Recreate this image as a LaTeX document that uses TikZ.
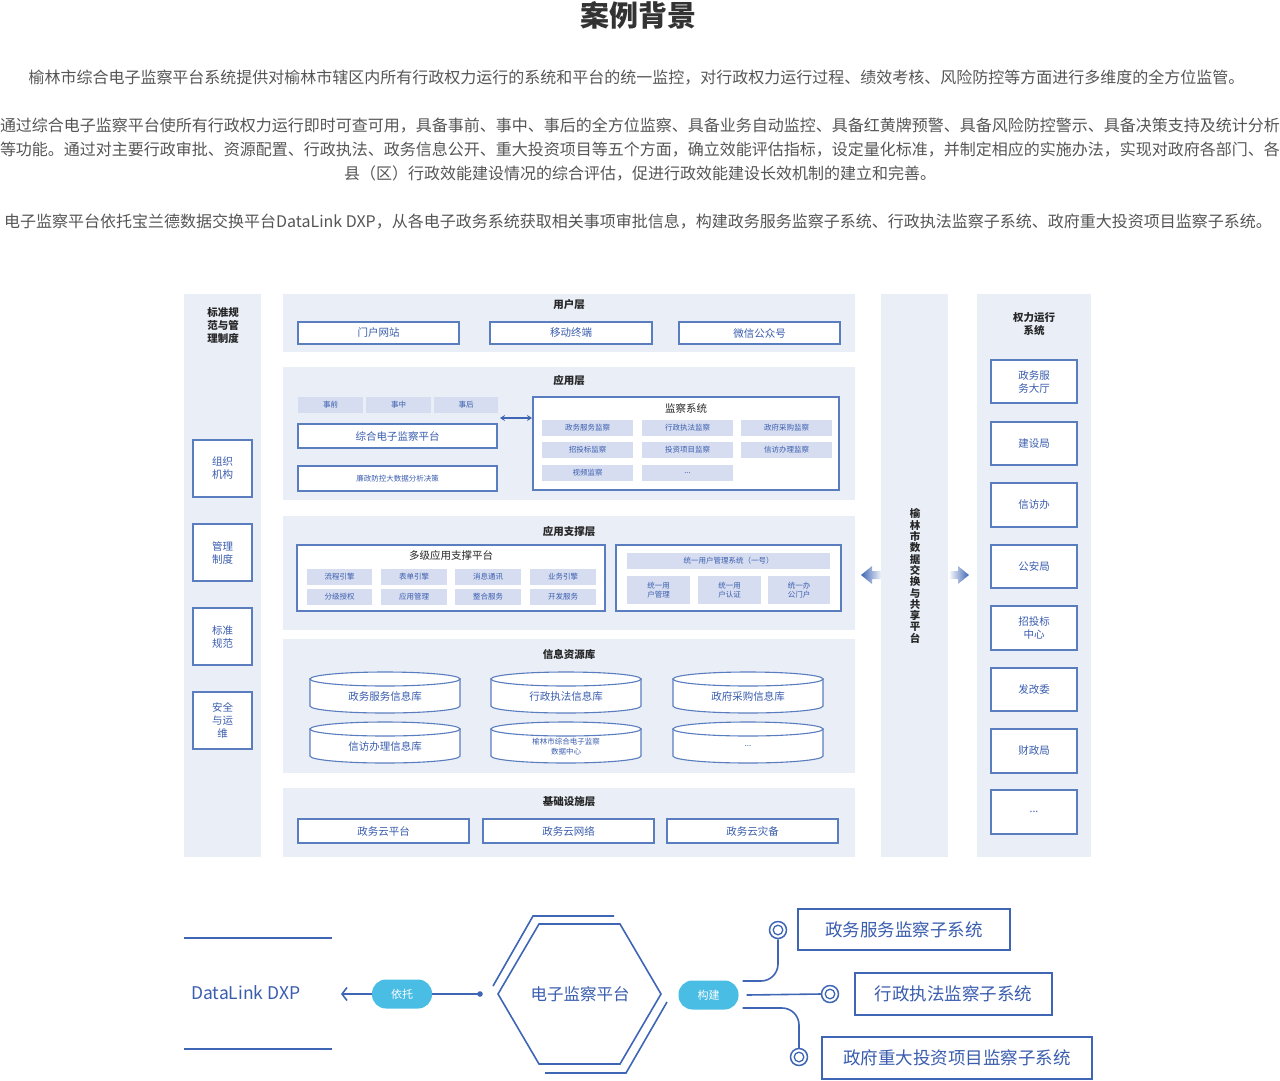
\documentclass[tikz,border=0pt]{standalone}
\usepackage{fontspec}
\setmainfont{Noto Sans CJK SC}
\usetikzlibrary{arrows.meta}
\definecolor{panelc}{HTML}{E9EEF7}
\definecolor{chipc}{HTML}{D6DDF0}
\definecolor{boxc}{HTML}{5A7DC0}
\definecolor{txtc}{HTML}{3A5DAE}
\definecolor{linec}{HTML}{3F66B5}
\definecolor{pillc}{HTML}{4ABDE5}
\definecolor{bodyc}{HTML}{555555}
\definecolor{headc}{HTML}{333333}
\newcommand\fs[2]{\fontsize{#1pt}{#2pt}\selectfont}
\newcommand\bx[7]{%
  \pgfmathsetmacro\bxw{#5-#3}\pgfmathsetmacro\bxh{#6-#4}%
  \pgfmathsetmacro\bxx{(#3+#5)/2}\pgfmathsetmacro\bxy{-(#4+#6)/2}%
  \node[#1, minimum width=\bxw pt, minimum height=\bxh pt, inner sep=0pt, outer sep=0pt] (#2) at (\bxx,\bxy) {#7};}
\newcommand\cyl[6]{%
  \draw[boxc, line width=1.1pt, fill=white] (#2-75,-#3) -- (#2-75,-#4) arc[start angle=180,end angle=360,x radius=75pt,y radius=7pt] -- (#2+75,-#3) -- cycle;
  \draw[boxc, line width=1.1pt, fill=white] (#2,-#3) ellipse[x radius=75pt, y radius=7pt];
  \node[text=txtc, align=center, font=#5] (#1) at (#2,{-(#3+#4)/2-4}) {#6};}
\tikzset{
  panel/.style={fill=panelc, draw=none},
  wbox/.style={draw=boxc, line width=1.1pt, fill=white, text=txtc, align=center, font=\fs{10.5}{13}},
  chip/.style={fill=chipc, draw=none, text=txtc, align=center, font=\fs{7.5}{10}},
  ltitle/.style={font=\bfseries\fs{10.5}{13}, text=black!85, align=center},
  pill/.style={fill=pillc, text=white, rounded corners=14pt, font=\fs{11}{13}, minimum height=29pt, minimum width=60pt, inner sep=0pt},
  conn/.style={draw=linec, line width=1.6pt},
  subbox/.style={draw=linec, line width=1.6pt, fill=white, text=txtc, font=\fs{17.5}{21}},
  ring/.style={circle, draw=linec, line width=1.5pt, fill=white, minimum size=17pt, inner sep=0pt},
  body/.style={text=bodyc, font=\fs{16}{19}, inner sep=0pt},
}
\begin{document}
\begin{tikzpicture}[x=1pt,y=1pt]
\useasboundingbox (0,0) rectangle (1280,-1080);
% ---------- header ----------
\node[font=\bfseries\fs{29}{32}, text=headc] (title) at (638,-15) {案例背景};
\node[body] (p1) at (636.5,-78) {榆林市综合电子监察平台系统提供对榆林市辖区内所有行政权力运行的系统和平台的统一监控，对行政权力运行过程、绩效考核、风险防控等方面进行多维度的全方位监管。};
\node[body] (p2a) at (640,-126) {通过综合电子监察平台使所有行政权力运行即时可查可用，具备事前、事中、事后的全方位监察、具备业务自动监控、具备红黄牌预警、具备风险防控警示、具备决策支持及统计分析};
\node[body] (p2b) at (640,-150) {等功能。通过对主要行政审批、资源配置、行政执法、政务信息公开、重大投资项目等五个方面，确立效能评估指标，设定量化标准，并制定相应的实施办法，实现对政府各部门、各};
\node[body] (p2c) at (640,-174) {县（区）行政效能建设情况的综合评估，促进行政效能建设长效机制的建立和完善。};
\node[body] (p3) at (638,-222) {电子监察平台依托宝兰德数据交换平台DataLink DXP，从各电子政务系统获取相关事项审批信息，构建政务服务监察子系统、行政执法监察子系统、政府重大投资项目监察子系统。};
% ---------- panels ----------
\bx{panel}{pl}{184}{294}{261}{857}{}
\bx{panel}{pu}{283}{294}{855}{352}{}
\bx{panel}{pa}{283}{367}{855}{500}{}
\bx{panel}{ps}{283}{516}{855}{630}{}
\bx{panel}{pd}{283}{639}{855}{773}{}
\bx{panel}{pi}{283}{788}{855}{857}{}
\bx{panel}{px}{881}{294}{948}{857}{}
\bx{panel}{pr}{977}{294}{1091}{857}{}
% ---------- left column ----------
\node[ltitle] (lt) at (223,-326) {标准规\\范与管\\理制度};
\bx{wbox}{l1}{193}{440}{252}{497}{组织\\机构}
\bx{wbox}{l2}{193}{524}{252}{581}{管理\\制度}
\bx{wbox}{l3}{193}{608}{252}{665}{标准\\规范}
\bx{wbox}{l4}{193}{692}{252}{749}{安全\\与运\\维}
% ---------- user layer ----------
\node[ltitle] (tu) at (569,-305) {用户层};
\bx{wbox}{u1}{298}{322}{459}{344}{门户网站}
\bx{wbox}{u2}{490}{322}{652}{344}{移动终端}
\bx{wbox}{u3}{679}{322}{840}{344}{微信公众号}
% ---------- application layer ----------
\node[ltitle] (ta) at (569,-380) {应用层};
\bx{chip}{c1}{298}{397}{363}{413}{事前}
\bx{chip}{c2}{366}{397}{431}{413}{事中}
\bx{chip}{c3}{434}{397}{498}{413}{事后}
\bx{wbox}{zh}{298}{424}{497}{448}{综合电子监察平台}
\bx{wbox, font=\fs{7.5}{10}}{lz}{298}{466}{497}{491}{廉政防控大数据分析决策}
\bx{wbox}{jc}{533}{397}{839}{490}{}
\node[font=\fs{10.5}{13}, text=black!85] (jct) at (686,-408) {监察系统};
\bx{chip}{j1}{542}{420}{633}{436}{政务服务监察}
\bx{chip}{j2}{642}{420}{733}{436}{行政执法监察}
\bx{chip}{j3}{741}{420}{832}{436}{政府采购监察}
\bx{chip}{j4}{542}{442}{633}{458}{招投标监察}
\bx{chip}{j5}{642}{442}{733}{458}{投资项目监察}
\bx{chip}{j6}{741}{442}{832}{458}{信访办理监察}
\bx{chip}{j7}{542}{465}{633}{481}{视频监察}
\bx{chip}{j8}{642}{465}{733}{481}{...}
\coordinate (da1) at (500,-418);
\coordinate (da2) at (532,-418);
\draw[conn, {Stealth[length=5pt,width=6pt]}-{Stealth[length=5pt,width=6pt]}] (da1) -- (da2);
% ---------- support layer ----------
\node[ltitle] (ts) at (569,-531) {应用支撑层};
\bx{wbox}{mp}{297}{545}{605}{611}{}
\node[font=\fs{10.5}{13}, text=black!85] (mpt) at (451,-555) {多级应用支撑平台};
\bx{chip}{s1}{307}{569}{372}{585}{流程引擎}
\bx{chip}{s2}{381}{569}{447}{585}{表单引擎}
\bx{chip}{s3}{455}{569}{521}{585}{消息通讯}
\bx{chip}{s4}{530}{569}{596}{585}{业务引擎}
\bx{chip}{s5}{307}{589}{372}{605}{分级授权}
\bx{chip}{s6}{381}{589}{447}{605}{应用管理}
\bx{chip}{s7}{455}{589}{521}{605}{整合服务}
\bx{chip}{s8}{530}{589}{596}{605}{开发服务}
\bx{wbox}{um}{616}{545}{841}{611}{}
\bx{chip}{uh}{627}{553}{830}{569}{统一用户管理系统（一号）}
\bx{chip, font=\fs{7.5}{9.5}}{ua}{627}{576}{690}{604}{统一用\\户管理}
\bx{chip, font=\fs{7.5}{9.5}}{ub}{698}{576}{761}{604}{统一用\\户认证}
\bx{chip, font=\fs{7.5}{9.5}}{uc}{768}{576}{830}{604}{统一办\\公门户}
% ---------- data layer ----------
\node[ltitle] (td) at (569,-654) {信息资源库};
\cyl{d1}{385}{679}{706}{\fs{10.5}{12}}{政务服务信息库}
\cyl{d2}{566}{679}{706}{\fs{10.5}{12}}{行政执法信息库}
\cyl{d3}{748}{679}{706}{\fs{10.5}{12}}{政府采购信息库}
\cyl{d4}{385}{729}{756}{\fs{10.5}{12}}{信访办理信息库}
\cyl{d5}{566}{729}{756}{\fs{7.5}{10}}{榆林市综合电子监察\\数据中心}
\cyl{d6}{748}{729}{756}{\fs{8}{10}}{...}
% ---------- infrastructure ----------
\node[ltitle] (ti) at (569,-802) {基础设施层};
\bx{wbox}{i1}{298}{819}{469}{843}{政务云平台}
\bx{wbox}{i2}{483}{819}{654}{843}{政务云网络}
\bx{wbox}{i3}{667}{819}{838}{843}{政务云灾备}
% ---------- exchange platform ----------
\node[font=\bfseries\fs{10.5}{11.3}, text=black!85, align=center] (xt) at (915,-576) {榆\\林\\市\\数\\据\\交\\换\\与\\共\\享\\平\\台};
\shade[left color=linec, right color=linec!8] (861,-575) -- (872,-566) -- (872,-571) -- (881,-571) -- (881,-579) -- (872,-579) -- (872,-584) -- cycle;
\shade[left color=linec!8, right color=linec] (969,-575) -- (958,-566) -- (958,-571) -- (950,-571) -- (950,-579) -- (958,-579) -- (958,-584) -- cycle;
% ---------- power systems ----------
\node[ltitle] (tr) at (1034,-324) {权力运行\\系统};
\bx{wbox}{r1}{991}{360}{1077}{403}{政务服\\务大厅}
\bx{wbox}{r2}{991}{422}{1077}{465}{建设局}
\bx{wbox}{r3}{991}{483}{1077}{527}{信访办}
\bx{wbox}{r4}{991}{545}{1077}{588}{公安局}
\bx{wbox}{r5}{991}{606}{1077}{650}{招投标\\中心}
\bx{wbox}{r6}{991}{668}{1077}{711}{发改委}
\bx{wbox}{r7}{991}{729}{1077}{773}{财政局}
\bx{wbox}{r8}{991}{790}{1077}{834}{...}
% ---------- bottom ----------
\draw[linec, line width=2pt] (184,-938) -- (332,-938);
\draw[linec, line width=2pt] (184,-1049) -- (332,-1049);
\node[anchor=west, text=txtc, font=\fs{17.5}{20}, inner sep=0pt] (dl) at (191,-993) {DataLink DXP};
\node[pill] (yt) at (402,-994) {依托};
\coordinate (ar) at (341,-994);
\coordinate (dot) at (480,-994);
\draw[conn, -{Straight Barb[length=5pt,width=13pt]}] (yt.west) -- (ar);
\draw[conn] (yt.east) -- (dot);
\fill[linec] (dot) circle (2.8pt);
\draw[linec, line width=1.6pt] (498,-994) -- (539,-924) -- (620,-924) -- (661,-994) -- (620,-1064) -- (539,-1064) -- cycle;
\draw[linec, line width=1.6pt] (493,-986) -- (533,-916) -- (614,-916);
\draw[linec, line width=1.6pt] (667,-1002) -- (626,-1073) -- (545,-1073);
\node[text=txtc, font=\fs{16.5}{19}] (hx) at (580,-994) {电子监察平台};
\node[pill] (gj) at (708.5,-995) {构建};
\node[ring] (o1) at (778,-930) {};
\node[ring] (o2) at (830,-994) {};
\node[ring] (o3) at (799,-1057) {};
\foreach \o in {o1,o2,o3} \draw[linec, line width=1.3pt] (\o) circle (4.8pt);
\draw[conn, rounded corners=17pt] ([xshift=4pt,yshift=14pt]gj.east) -| (o1.south);
\draw[conn] ([xshift=8pt]gj.east) -- (o2.west);
\draw[conn, rounded corners=17pt] ([xshift=4pt,yshift=-13pt]gj.east) -| (o3.north);
\bx{subbox}{b1}{798}{909}{1010}{950}{政务服务监察子系统}
\bx{subbox}{b2}{855}{973}{1052}{1015}{行政执法监察子系统}
\bx{subbox}{b3}{822}{1037}{1092}{1079}{政府重大投资项目监察子系统}
\end{tikzpicture}
\end{document}
